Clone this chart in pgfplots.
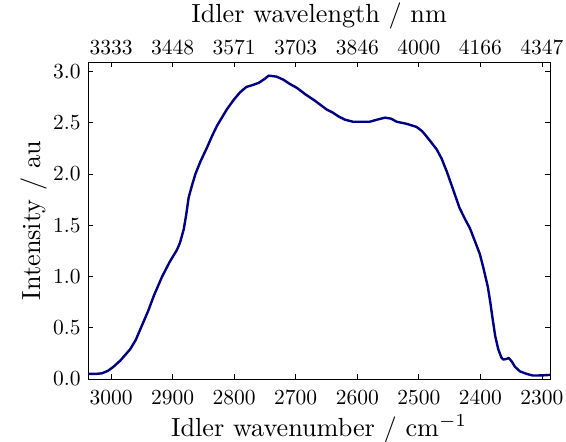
\documentclass[border=0pt]{standalone}
\usepackage{pgfplots}
\pgfplotsset{compat=1.18}
\definecolor{navyline}{RGB}{0,0,135}
\begin{document}
\begin{tikzpicture}
\pgfplotsset{
  common/.style={
    scale only axis, width=461.7pt, height=316.7pt,
    xmin=2287, xmax=3037, x dir=reverse,
    ymin=0, ymax=3.09,
    tick label style={font=\fontsize{10}{12}\selectfont, scale=2.15},
    label style={font=\fontsize{10}{12}\selectfont, scale=2.62},
    /pgf/number format/1000 sep={},
    major tick length=5pt,
    axis line style={line width=0.9pt},
    every tick/.style={black, line width=0.8pt},
  }
}
\begin{axis}[common,
  xtick={3000,2900,2800,2700,2600,2500,2400,2300},
  ytick={0,0.5,1,1.5,2,2.5,3},
  yticklabel style={/pgf/number format/fixed, /pgf/number format/fixed zerofill, /pgf/number format/precision=1},
  xticklabel style={yshift=-2pt},
  xlabel={Idler wavenumber / cm$^{-1}$},
  xlabel style={yshift=2.4pt},
  ylabel={Intensity / au},
  ylabel style={yshift=-4pt},
]
\addplot[navyline, line width=2.4pt, line join=round] coordinates {
(3037,0.05) (3025,0.05) (3015,0.055) (3005,0.08) (2996,0.12) (2985,0.18)
(2969,0.29) (2960,0.38) (2950,0.52) (2940,0.66) (2930,0.82) (2917,1.0)
(2905,1.14) (2893,1.26) (2888,1.33) (2882,1.46) (2878,1.60) (2874,1.77)
(2868,1.90) (2863,2.00) (2855,2.12) (2844,2.26) (2836,2.37) (2828,2.47)
(2820,2.55) (2812,2.63) (2800,2.73) (2790,2.80) (2780,2.85) (2769,2.87)
(2760,2.89) (2750,2.93) (2744,2.96) (2731,2.95) (2720,2.92) (2710,2.88)
(2698,2.84) (2685,2.78) (2670,2.72) (2661,2.68) (2650,2.63) (2640,2.60)
(2630,2.56) (2620,2.53) (2607,2.51) (2595,2.51) (2580,2.51) (2568,2.53)
(2555,2.55) (2545,2.54) (2536,2.51) (2520,2.49) (2504,2.46) (2495,2.42)
(2488,2.37) (2480,2.31) (2471,2.24) (2463,2.15) (2455,2.03) (2445,1.86)
(2434,1.67) (2425,1.56) (2417,1.47) (2408,1.33) (2401,1.22) (2395,1.08)
(2388,0.90) (2384,0.75) (2380,0.58) (2376,0.42) (2371,0.29) (2366,0.21)
(2363,0.19) (2358,0.195) (2354,0.205) (2349,0.17) (2344,0.12) (2336,0.075)
(2325,0.05) (2315,0.034) (2300,0.035) (2287,0.04)
};
\end{axis}
\begin{axis}[common,
  axis x line*=top, axis y line=none,
  xtick={3000,2900,2800,2700,2600,2500,2400,2300},
  xticklabels={3333,3448,3571,3703,3846,4000,4166,4347},
  major tick length=0pt,
  xlabel={Idler wavelength / nm},
  xlabel style={yshift=-2.3pt},
]
\end{axis}
\pgfresetboundingbox
\path[use as bounding box] (-88.3pt,-63pt) rectangle (477.7pt,379pt);
\end{tikzpicture}
\end{document}
